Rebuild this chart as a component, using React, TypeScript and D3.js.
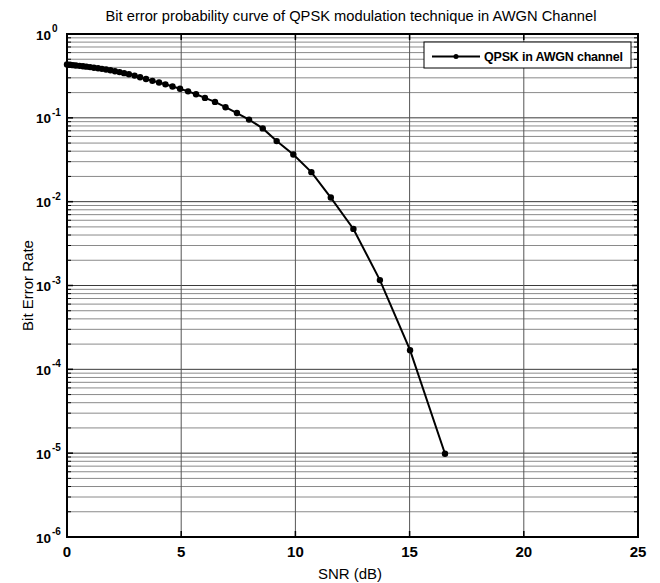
import React from "react";
import * as d3 from "d3";

const TITLE = "Bit error probability curve of QPSK modulation technique in AWGN Channel";
const X_LABEL = "SNR (dB)";
const Y_LABEL = "Bit Error Rate";
const LEGEND_LABEL = "QPSK in AWGN channel";

const snrDb = [
  0, 0.13, 0.26, 0.39, 0.55, 0.7, 0.85, 1.01, 1.18, 1.36, 1.53, 1.71, 1.9, 2.1, 2.3, 2.5,
  2.71, 2.96, 3.2, 3.46, 3.74, 4.03, 4.31, 4.62, 4.95, 5.3, 5.65, 6.04, 6.48, 6.94, 7.44,
  7.97, 8.57, 9.18, 9.91, 10.7, 11.55, 12.54, 13.7, 15.02, 16.55,
];
const ber = [
  0.432, 0.429, 0.425, 0.421, 0.417, 0.412, 0.408, 0.403, 0.396, 0.391, 0.384, 0.377, 0.369,
  0.36, 0.351, 0.341, 0.331, 0.319, 0.305, 0.29, 0.276, 0.264, 0.251, 0.236, 0.222, 0.207,
  0.191, 0.173, 0.155, 0.134, 0.114, 0.0953, 0.0748, 0.0528, 0.0366, 0.0225, 0.0112, 0.00473,
  0.00116, 0.000169, 0.00000985,
];
const xTicks = [0, 5, 10, 15, 20, 25];
const yExponents = [0, -1, -2, -3, -4, -5, -6];

const W = 660;
const H = 583;
const M = { left: 67, right: 638, top: 34, bottom: 537 };
const FONT = "'Liberation Sans', Arial, sans-serif";

export default function App() {
  const x = d3.scaleLinear().domain([0, 25]).range([M.left, M.right]);
  const y = d3.scaleLog().domain([1e-6, 1]).range([M.bottom, M.top]);

  const pts = snrDb.map((s, i) => [s, ber[i]] as [number, number]);
  const line = d3
    .line<[number, number]>()
    .x((d) => x(d[0]))
    .y((d) => y(d[1]));

  const minor: number[] = [];
  for (let e = -6; e < 0; e++) {
    for (let k = 2; k <= 9; k++) minor.push(k * Math.pow(10, e));
  }

  return (
    <svg
      width={W}
      height={H}
      style={{ position: "absolute", left: 0, top: 0, background: "#fff" }}
      fontFamily={FONT}
    >
      <rect x={0} y={0} width={W} height={H} fill="#fff" />
      {minor.map((v, i) => (
        <line key={"mg" + i} x1={M.left} x2={M.right} y1={y(v)} y2={y(v)} stroke="#8a8a8a" strokeWidth={1} />
      ))}
      {yExponents.map((e) => (
        <line key={"Mg" + e} x1={M.left} x2={M.right} y1={y(Math.pow(10, e))} y2={y(Math.pow(10, e))} stroke="#3a3a3a" strokeWidth={1} />
      ))}
      {xTicks.map((t) => (
        <line key={"xg" + t} x1={x(t)} x2={x(t)} y1={M.top} y2={M.bottom} stroke="#555" strokeWidth={1} />
      ))}
      {minor.map((v, i) => (
        <g key={"mt" + i}>
          <line x1={M.left} x2={M.left + 4} y1={y(v)} y2={y(v)} stroke="#000" strokeWidth={1} />
          <line x1={M.right - 4} x2={M.right} y1={y(v)} y2={y(v)} stroke="#000" strokeWidth={1} />
        </g>
      ))}
      {yExponents.map((e) => (
        <g key={"Mt" + e}>
          <line x1={M.left} x2={M.left + 6} y1={y(Math.pow(10, e))} y2={y(Math.pow(10, e))} stroke="#000" strokeWidth={1.5} />
          <line x1={M.right - 6} x2={M.right} y1={y(Math.pow(10, e))} y2={y(Math.pow(10, e))} stroke="#000" strokeWidth={1.5} />
        </g>
      ))}
      {xTicks.map((t) => (
        <g key={"xt" + t}>
          <line x1={x(t)} x2={x(t)} y1={M.bottom} y2={M.bottom - 6} stroke="#000" strokeWidth={1.5} />
          <line x1={x(t)} x2={x(t)} y1={M.top} y2={M.top + 6} stroke="#000" strokeWidth={1.5} />
        </g>
      ))}
      <rect
        x={M.left}
        y={M.top}
        width={M.right - M.left}
        height={M.bottom - M.top}
        fill="none"
        stroke="#000"
        strokeWidth={2}
      />
      <path d={line(pts) || ""} fill="none" stroke="#000" strokeWidth={2} />
      {pts.map((d, i) => (
        <circle key={"p" + i} cx={x(d[0])} cy={y(d[1])} r={3.2} fill="#000" />
      ))}
      {xTicks.map((t) => (
        <text key={"xl" + t} x={x(t)} y={557} textAnchor="middle" fontSize={15} fontWeight="bold" fill="#000">
          {t}
        </text>
      ))}
      {yExponents.map((e) => {
        const yy = y(Math.pow(10, e));
        return (
          <g key={"yl" + e}>
            <text x={51} y={yy + 5.5} textAnchor="end" fontSize={13.5} fontWeight="bold" fill="#000">
              10
            </text>
            <text x={52} y={yy - 2} textAnchor="start" fontSize={10} fontWeight="bold" fill="#000">
              {String(e)}
            </text>
          </g>
        );
      })}
      <text x={351} y={21} textAnchor="middle" fontSize={14.7} fill="#000">
        {TITLE}
      </text>
      <text x={350} y={579} textAnchor="middle" fontSize={15} fill="#000">
        {X_LABEL}
      </text>
      <text
        transform={`translate(33, ${(M.top + M.bottom) / 2}) rotate(-90)`}
        textAnchor="middle"
        fontSize={15}
        fill="#000"
      >
        {Y_LABEL}
      </text>
      <rect x={424} y={42} width={207} height={26} fill="#fff" stroke="#000" strokeWidth={1} />
      <line x1={432} x2={480} y1={56.5} y2={56.5} stroke="#000" strokeWidth={2} />
      <circle cx={456} cy={56.5} r={2.5} fill="#000" />
      <text x={484} y={61} fontSize={12.5} fontWeight="bold" fill="#000" textLength={139} lengthAdjust="spacing">
        {LEGEND_LABEL}
      </text>
    </svg>
  );
}
